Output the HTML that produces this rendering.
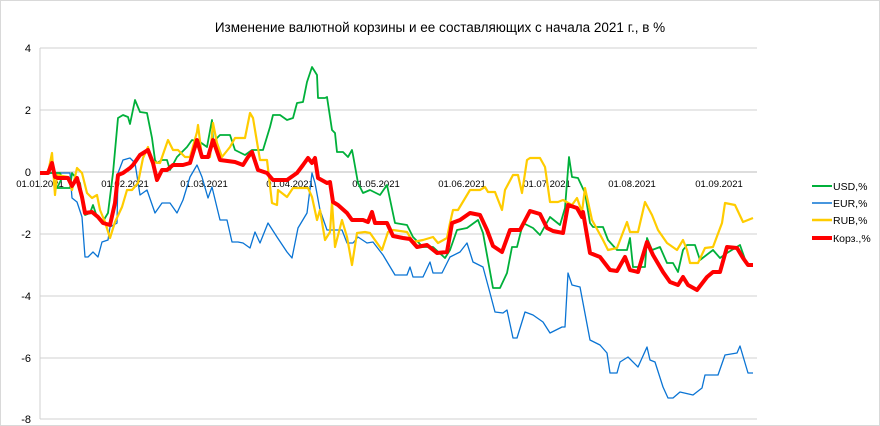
<!DOCTYPE html>
<html><head><meta charset="utf-8"><style>
body{margin:0;background:#fff}
svg{display:block;font-family:"Liberation Sans",sans-serif}
</style></head><body>
<svg width="880" height="426" viewBox="0 0 880 426">
<rect x="0.5" y="0.5" width="879" height="425" fill="#fff" stroke="#d9d9d9"/>
<text x="440" y="32" text-anchor="middle" font-size="13.5" fill="#000">Изменение  валютной корзины и ее составляющих  с начала 2021 г., в %</text>
<g stroke="#d0d0d0" stroke-width="1">
<line x1="40" y1="48" x2="757" y2="48"/><line x1="40" y1="110" x2="757" y2="110"/>
<line x1="40" y1="234" x2="757" y2="234"/><line x1="40" y1="296" x2="757" y2="296"/>
<line x1="40" y1="358" x2="757" y2="358"/><line x1="40" y1="419" x2="757" y2="419"/>
<line x1="40" y1="48" x2="40" y2="419"/>
</g>
<line x1="40" y1="172" x2="757" y2="172" stroke="#bbb"/>
<g font-size="11" text-anchor="end" fill="#000">
<text x="31" y="52">4</text><text x="31" y="114">2</text><text x="31" y="176">0</text><text x="31" y="238">-2</text><text x="31" y="300">-4</text><text x="31" y="362">-6</text><text x="31" y="423">-8</text>
</g>
<g font-size="9.5" text-anchor="middle" fill="#000">
<text x="40" y="187">01.01.2021</text><text x="125" y="187">01.02.2021</text><text x="204" y="187">01.03.2021</text><text x="290" y="187">01.04.2021</text><text x="376" y="187">01.05.2021</text><text x="462" y="187">01.06.2021</text><text x="547" y="187">01.07.2021</text><text x="632" y="187">01.08.2021</text><text x="719" y="187">01.09.2021</text>
</g>
<g fill="none" stroke-linejoin="round">
<polyline stroke="#0a74d4" stroke-width="1.3" points="40,173 70,173 72,198 77,202 82,217 85,257 88,257 93,252 98,257 102,242 108,240 110,227 117,223 118,173 123,160 130,158 135,163 140,195 147,190 155,213 162,203 170,203 177,213 183,200 190,177 197,165 202,177 208,198 212,187 220,220 227,220 232,242 238,242 243,243 250,248 255,232 260,243 268,223 277,237 287,252 292,258 298,228 307,213 312,173 315,183 320,210 327,230 342,230 347,243 353,243 358,237 367,243 373,242 383,255 395,275 407,275 410,267 413,277 423,277 430,262 433,273 442,273 450,257 460,252 467,243 473,262 483,267 490,293 495,312 503,313 507,310 513,338 517,338 525,312 533,315 543,322 550,333 562,327 565,327 568,273 572,285 580,287 590,340 600,345 607,353 610,373 617,373 620,362 628,357 638,367 647,347 650,360 655,362 663,387 668,398 673,398 680,392 693,395 702,388 705,375 718,375 725,355 737,353 740,346 748,373 753,373"/>
<polyline stroke="#00b03a" stroke-width="1.8" points="40,173 60,173 62,178 57,188 70,188 72,173 80,183 85,215 90,213 93,205 97,217 102,223 108,213 113,173 118,118 123,115 128,117 130,124 135,100 140,112 147,113 152,138 155,160 157,163 162,160 167,160 170,170 177,157 187,147 192,140 200,142 207,147 212,120 213,142 220,135 230,135 235,150 245,155 252,150 263,150 270,127 273,115 280,115 287,120 293,118 297,103 303,102 307,82 312,67 317,75 318,98 325,98 327,97 332,130 335,133 337,152 343,152 348,157 352,150 353,155 358,183 363,193 370,190 380,195 387,185 395,223 407,225 413,237 423,247 433,247 445,258 450,250 457,230 467,228 478,220 483,233 493,288 500,288 507,273 512,247 517,247 523,223 533,228 540,235 550,217 560,225 565,208 569,157 572,177 578,178 585,193 590,223 593,227 603,227 608,240 617,250 627,250 630,238 633,267 645,267 647,238 652,250 660,247 667,263 673,263 678,272 683,250 687,245 695,245 700,260 713,250 720,258 727,253 740,245 747,265 753,265"/>
<polyline stroke="#ffcc00" stroke-width="2.2" points="40,173 48,173 52,153 55,195 57,175 68,177 72,190 77,168 82,173 87,193 92,198 97,195 100,210 105,222 110,238 115,222 122,207 127,190 132,190 138,183 143,158 148,147 152,162 160,163 168,140 173,150 178,150 185,157 190,157 197,132 198,125 202,157 210,157 213,123 217,143 222,157 230,147 235,138 245,138 250,113 253,118 260,160 267,160 272,203 277,205 278,190 287,197 293,188 308,188 312,197 317,220 320,210 325,240 330,232 332,202 335,247 342,220 347,237 352,265 357,233 365,232 370,233 382,250 388,232 393,230 407,232 413,242 423,240 433,237 438,243 447,238 450,223 453,210 458,210 470,190 480,190 485,187 488,192 495,192 502,210 505,190 513,175 518,175 522,193 527,160 530,158 540,158 545,167 550,202 558,202 563,200 572,205 577,198 582,212 585,188 592,220 603,240 608,250 617,248 627,222 630,232 638,232 645,202 652,215 658,230 667,243 677,250 683,240 687,250 690,263 698,263 705,248 713,247 722,223 725,203 735,205 743,222 753,218"/>
<polyline stroke="#ff0000" stroke-width="4" points="40,173 48,173 52,163 55,177 58,178 68,178 72,186 77,178 82,197 85,213 92,212 98,217 103,223 110,225 115,203 118,175 123,173 130,168 133,165 140,155 148,150 153,163 157,180 162,170 167,170 173,165 183,165 190,163 197,140 202,157 208,157 213,140 220,160 235,162 243,165 248,157 252,152 258,170 267,173 273,180 287,180 297,173 303,165 308,158 312,163 315,158 318,178 327,183 330,182 333,202 338,205 347,213 352,220 363,220 368,222 372,212 375,223 387,223 393,236 403,238 410,239 417,247 427,245 437,253 447,252 452,223 460,220 470,213 480,215 487,230 493,246 502,252 510,230 520,230 530,211 540,214 547,228 553,231 563,233 568,205 577,208 582,217 583,212 590,253 600,257 610,270 617,271 625,257 630,270 638,272 647,242 653,255 663,272 670,282 678,285 683,277 688,285 697,290 707,277 713,272 720,272 727,247 737,248 743,258 748,265 753,265"/>
</g>
<g font-size="10.5" fill="#000">
<line x1="812" y1="186" x2="832" y2="186" stroke="#00b03a" stroke-width="2"/><text x="833" y="190">USD,%</text>
<line x1="812" y1="203" x2="832" y2="203" stroke="#0a74d4" stroke-width="1.5"/><text x="833" y="207">EUR,%</text>
<line x1="812" y1="220" x2="832" y2="220" stroke="#ffcc00" stroke-width="2.5"/><text x="833" y="224">RUB,%</text>
<line x1="812" y1="238" x2="832" y2="238" stroke="#ff0000" stroke-width="4"/><text x="833" y="242">Корз.,%</text>
</g>
</svg>
</body></html>
